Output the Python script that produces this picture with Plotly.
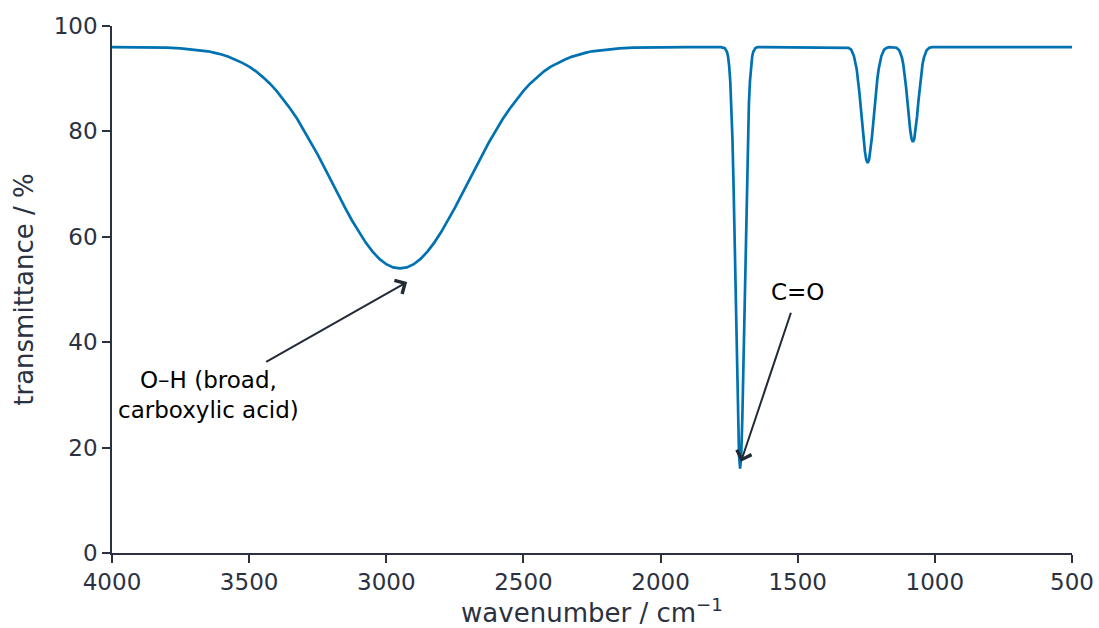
import plotly.graph_objects as go

# IR spectrum readings: wavenumber (cm^-1) and transmittance (%)
wavenumber = [
    4000, 3900, 3800, 3750, 3700, 3675, 3650, 3625, 3600, 3575, 3550, 3525, 3500,
    3475, 3450, 3425, 3400, 3375, 3350, 3325, 3300, 3275, 3250, 3225, 3200, 3175,
    3150, 3125, 3100, 3075, 3050, 3025, 3000, 2975, 2950, 2925, 2900, 2875, 2850,
    2825, 2800, 2775, 2750, 2725, 2700, 2675, 2650, 2625, 2600, 2575, 2550, 2525,
    2500, 2475, 2450, 2425, 2400, 2375, 2350, 2325, 2300, 2275, 2250, 2225, 2200,
    2150, 2100, 2000, 1900, 1800,
    1780, 1766, 1758, 1754, 1750, 1746, 1742, 1738, 1734, 1730, 1726, 1722, 1718,
    1714, 1710, 1706, 1702, 1698, 1694, 1690, 1686, 1682, 1678, 1674, 1670, 1666,
    1662, 1654, 1646,
    1500, 1325, 1315, 1305, 1295, 1285, 1280, 1275, 1270, 1265, 1260, 1255, 1250,
    1245, 1240, 1235, 1230, 1225, 1220, 1215, 1210, 1205, 1195, 1185, 1175, 1165,
    1150, 1140, 1130, 1120, 1115, 1110, 1105, 1100, 1095, 1090, 1085, 1080, 1075,
    1070, 1065, 1060, 1055, 1050, 1045, 1040, 1030, 1020, 1010, 500,
]
transmittance = [
    96.0, 96.0, 95.9, 95.75, 95.5, 95.37, 95.2, 94.9, 94.6, 94.15, 93.6, 93.0, 92.3,
    91.4, 90.3, 89.1, 87.7, 86.1, 84.3, 82.4, 80.2, 78.0, 75.6, 73.1, 70.5, 68.0,
    65.5, 63.1, 60.9, 58.9, 57.2, 55.8, 54.8, 54.2, 54.0, 54.2, 54.8, 55.8, 57.2,
    58.9, 60.9, 63.1, 65.5, 68.0, 70.5, 73.1, 75.6, 78.0, 80.2, 82.4, 84.3, 86.1,
    87.7, 89.1, 90.3, 91.4, 92.3, 93.0, 93.6, 94.15, 94.6, 94.9, 95.2, 95.37, 95.5,
    95.75, 95.9, 96.0, 96.0, 96.0,
    96.0, 95.8, 95.1, 94.2, 92.5, 89.6, 85.2, 78.7, 70.0, 59.4, 47.5, 35.6, 25.4,
    18.5, 16.0, 18.5, 25.4, 35.6, 47.5, 59.4, 70.0, 78.7, 85.2, 89.6, 92.5, 94.2,
    95.1, 95.8, 96.0,
    96.0, 96.0, 95.86, 95.5, 94.3, 91.8, 89.8, 87.3, 84.5, 81.4, 78.6, 76.2, 74.6,
    74.0, 74.6, 76.2, 78.6, 81.4, 84.5, 87.3, 89.8, 91.8, 94.3, 95.5, 95.86, 96.0,
    96.0, 95.88, 95.4, 94.0, 92.7, 90.8, 88.4, 85.7, 82.8, 80.3, 78.6, 78.0, 78.6,
    80.3, 82.8, 85.7, 88.4, 90.8, 92.7, 94.0, 95.4, 95.88, 96.0, 96.0,
]

x_ticks = [4000, 3500, 3000, 2500, 2000, 1500, 1000, 500]
y_ticks = [0, 20, 40, 60, 80, 100]

# annotations: label text, label position (wn, T), arrow tip (wn, T)
label_oh = "O–H (broad,<br>carboxylic acid)"
label_oh_pos = (3650, 30.0)
tip_oh = (2924, 51.4)
label_co = "C=O"
label_co_pos = (1499, 49.6)
tip_co = (1707, 17.3)

AX = "#2a3242"
FONT = "DejaVu Sans"

fig = go.Figure()
fig.add_trace(go.Scatter(
    x=wavenumber, y=transmittance, mode="lines",
    line=dict(color="#0072B2", width=2.7),
    hoverinfo="skip", showlegend=False,
))

axis_common = dict(
    showgrid=False, zeroline=False, showline=True, linecolor=AX, linewidth=1.6,
    ticks="outside", ticklen=8, tickwidth=1.6, tickcolor=AX,
    tickfont=dict(family=FONT, size=23, color=AX),
    mirror=False, automargin=False, ticklabeloverflow="allow",
)

fig.update_layout(
    width=1099, height=628,
    margin=dict(l=112, r=27, t=26, b=75),
    paper_bgcolor="white", plot_bgcolor="white",
    font=dict(family=FONT, color=AX),
    xaxis=dict(
        range=[4000, 500], tickvals=x_ticks,
        title=dict(text="wavenumber / cm<sup>−1</sup>", font=dict(family=FONT, size=26, color=AX), standoff=8),
        **axis_common,
    ),
    yaxis=dict(
        range=[0, 100], tickvals=y_ticks,
        title=dict(text="transmittance / %", font=dict(family=FONT, size=26, color=AX), standoff=13),
        **axis_common,
    ),
)

for text, pos, tip in [(label_oh, label_oh_pos, tip_oh), (label_co, label_co_pos, tip_co)]:
    fig.add_annotation(
        x=tip[0], y=tip[1], ax=pos[0], ay=pos[1],
        xref="x", yref="y", axref="x", ayref="y",
        text=text, showarrow=True, arrowhead=4, arrowsize=1.5, arrowwidth=2,
        arrowcolor="#222a36", startstandoff=7, align="center",
        font=dict(family=FONT, size=23, color="black"),
    )

fig.write_html("out.html", config={"displayModeBar": False},
               post_script="document.body.style.margin='0';")
